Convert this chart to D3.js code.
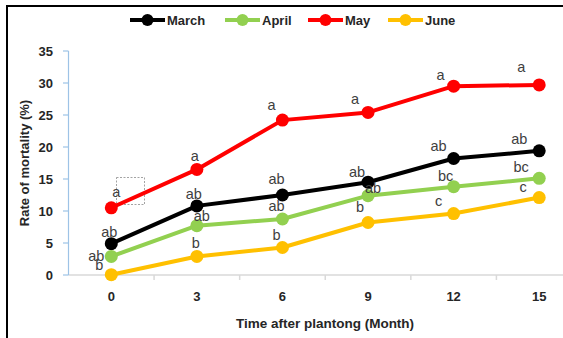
<!DOCTYPE html>
<html><head><meta charset="utf-8">
<script src="https://cdn.jsdelivr.net/npm/d3@7"></script>
<style>body{margin:0;background:#fff}svg{display:block}</style>
</head><body><svg id="c" width="563" height="338"></svg>
<script>
const months = ["0","3","6","9","12","15"];
const seriesNames = ["March","April","May","June"];
const march = [4.9, 10.8, 12.5, 14.5, 18.2, 19.4];
const april = [2.9, 7.7, 8.75, 12.4, 13.8, 15.1];
const may = [10.5, 16.5, 24.2, 25.4, 29.5, 29.7];
const june = [0.05, 2.9, 4.3, 8.2, 9.6, 12.1];
const marchLetters = ["ab","ab","ab","ab","ab","ab"];
const aprilLetters = ["ab","ab","ab","ab","bc","bc"];
const mayLetters = ["a","a","a","a","a","a"];
const juneLetters = ["b","b","b","b","c","c"];
const yTicks = [0,5,10,15,20,25,30,35];
const colors = ["#000000","#92d050","#ff0000","#ffc000"];
// label nudges (layout only), relative to each point
const nudges = [
  [[-2,-12],[-3,-12],[-6,-16],[-11,-10],[-15,-13],[-20,-12]],
  [[-15,-1],[5,-10],[-6,-13],[5,-8],[-8,-11],[-18,-11]],
  [[5,-16],[-2,-13],[-11,-15],[-13,-14],[-13,-11],[-18,-18]],
  [[-12,-10],[-1,-14],[-6,-13],[-8,-16],[-15,-13],[-16,-11]]
];
const series = [
  {name:seriesNames[0], values:march, letters:marchLetters},
  {name:seriesNames[1], values:april, letters:aprilLetters},
  {name:seriesNames[2], values:may, letters:mayLetters},
  {name:seriesNames[3], values:june, letters:juneLetters}
];
const svg = d3.select("#c");
const font = "'Liberation Sans', Arial, sans-serif";
// frame
svg.append("rect").attr("x",7).attr("y",6).attr("width",600).attr("height",400)
  .attr("fill","none").attr("stroke","#000").attr("stroke-width",2);
const x = d3.scaleBand().domain(months).range([68.5, 582]).padding(0);
const y = d3.scaleLinear().domain([0,35]).range([275,51]);
const cx = d => x(d) + x.bandwidth()/2;
// x axis
const xg = svg.append("g").attr("transform","translate(0,275)");
xg.append("line").attr("x1",68.5).attr("x2",563).attr("stroke","#d9d9d9").attr("stroke-width",1.5);
xg.selectAll("line.t").data(months.slice(1)).enter().append("line").attr("class","t")
  .attr("x1",d=>x(d)).attr("x2",d=>x(d)).attr("y1",0).attr("y2",5).attr("stroke","#d9d9d9").attr("stroke-width",1.5);
xg.selectAll("text").data(months).enter().append("text")
  .attr("x",d=>cx(d)).attr("y",26).attr("text-anchor","middle")
  .attr("font-family",font).attr("font-weight","bold").attr("font-size",13).attr("fill","#262626").text(d=>d);
// y axis
const yg = svg.append("g");
yg.append("line").attr("x1",68.5).attr("x2",68.5).attr("y1",y(35)).attr("y2",y(0)).attr("stroke","#9dc3e6").attr("stroke-width",1.2);
yg.selectAll("line.t").data(yTicks).enter().append("line").attr("class","t")
  .attr("x1",63).attr("x2",68.5).attr("y1",d=>y(d)).attr("y2",d=>y(d)).attr("stroke","#9dc3e6").attr("stroke-width",1.2);
yg.selectAll("text").data(yTicks).enter().append("text")
  .attr("x",53).attr("y",d=>y(d)).attr("dy","0.36em").attr("text-anchor","end")
  .attr("font-family",font).attr("font-weight","bold").attr("font-size",13).attr("fill","#262626").text(d=>d);
// titles
svg.append("text").attr("x",325).attr("y",328).attr("text-anchor","middle")
  .attr("font-family",font).attr("font-weight","bold").attr("font-size",13.5).attr("fill","#262626")
  .text("Time after plantong (Month)");
svg.append("text").attr("transform","translate(29,163) rotate(-90)").attr("text-anchor","middle")
  .attr("font-family",font).attr("font-weight","bold").attr("font-size",13).attr("fill","#262626")
  .text("Rate of mortality (%)");
// dashed artifact box
svg.append("rect").attr("x",116.5).attr("y",177.5).attr("width",28).attr("height",27)
  .attr("fill","none").attr("stroke","#8c8c8c").attr("stroke-width",0.8).attr("stroke-dasharray","2,1.5");
// lines
const line = d3.line().x((d,i)=>cx(months[i])).y(d=>y(d));
series.forEach((s,si)=>{
  const g = svg.append("g");
  g.append("path").datum(s.values).attr("d",line).attr("fill","none")
    .attr("stroke",colors[si]).attr("stroke-width",4).attr("stroke-linejoin","round");
  g.selectAll("circle").data(s.values).enter().append("circle")
    .attr("cx",(d,i)=>cx(months[i])).attr("cy",d=>y(d)).attr("r",6.5).attr("fill",colors[si]);
});
series.forEach((s,si)=>{
  svg.append("g").selectAll("text").data(s.letters).enter().append("text")
    .attr("x",(d,i)=>cx(months[i])+nudges[si][i][0])
    .attr("y",(d,i)=>y(s.values[i])+nudges[si][i][1])
    .attr("dy","0.35em").attr("text-anchor","middle")
    .attr("font-family",font).attr("font-size",14.5).attr("fill","#404040").text(d=>d);
});
// legend
const legX = [130, 225, 308, 388];
const lg = svg.append("g");
series.forEach((s,si)=>{
  const g = lg.append("g").attr("transform",`translate(${legX[si]},20)`);
  g.append("line").attr("x1",0).attr("x2",35).attr("stroke",colors[si]).attr("stroke-width",4);
  g.append("circle").attr("cx",17.5).attr("r",6).attr("fill",colors[si]);
  g.append("text").attr("x",37).attr("dy","0.36em").attr("font-family",font).attr("font-weight","bold")
    .attr("font-size",13).attr("fill","#262626").text(s.name);
});
</script></body></html>
